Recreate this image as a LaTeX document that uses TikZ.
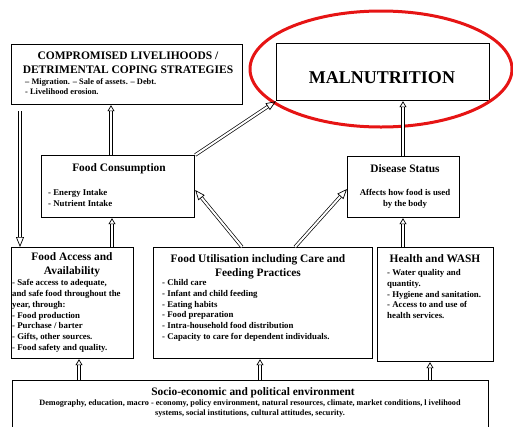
\documentclass[tikz,border=0pt]{standalone}
\usepackage{fontspec}
\setmainfont{Liberation Serif}
\usetikzlibrary{arrows.meta}
\definecolor{ovalred}{RGB}{230,20,20}
\tikzset{
  box/.style={draw, line width=1.2pt, inner sep=0pt, anchor=north west},
  head/.style={font=\bfseries\fontsize{11.4}{13.5}\selectfont, align=center, inner sep=0pt},
  body/.style={font=\bfseries\fontsize{8.8}{10.7}\selectfont, align=left, inner sep=0pt, anchor=north west},
  barrow/.style={double, double distance=2pt, line width=0.7pt, -{Triangle[open,length=6pt,width=7pt]}},
  longarrow/.style={double, double distance=2pt, line width=0.7pt, -{Triangle[open,length=10pt,width=8pt]}}
}
\begin{document}
\begin{tikzpicture}[x=1pt,y=-1pt]
\useasboundingbox (0,0) rectangle (513,426);
% boxes
\node[box, minimum width=231pt, minimum height=60pt] (comp) at (11,44) {};
\node[box, minimum width=213pt, minimum height=57pt] (mal) at (276,43) {};
\node[box, minimum width=153pt, minimum height=62pt] (cons) at (41,155) {};
\node[box, minimum width=112pt, minimum height=61pt] (dis) at (347,156) {};
\node[box, minimum width=122pt, minimum height=111pt] (acc) at (11,247) {};
\node[box, minimum width=219pt, minimum height=111pt] (util) at (153,247) {};
\node[box, minimum width=116pt, minimum height=114pt] (wash) at (377,247) {};
\node[box, minimum width=476pt, minimum height=48pt] (soc) at (12,380) {};
% oval
\draw[ovalred, line width=3pt] (381,69) ellipse [x radius=131, y radius=58];
% texts
\node[head, font=\bfseries\fontsize{11.5}{14}\selectfont] (compT) at (128,63) {COMPROMISED LIVELIHOODS /\\DETRIMENTAL COPING STRATEGIES};
\node[body, font=\bfseries\fontsize{8.4}{10}\selectfont] (compB) at (25,78.5) {-- Migration. -- Sale of assets. -- Debt.\\- Livelihood erosion.};
\node[head, font=\bfseries\fontsize{18}{20}\selectfont] (malT) at (382,78) {MALNUTRITION};
\node[head] (consT) at (119,169) {Food Consumption};
\node[body] (consB) at (48,189.5) {- Energy Intake\\- Nutrient Intake};
\node[head] (disT) at (405,169) {Disease Status};
\node[body, align=center, anchor=center] (disB) at (405,198.5) {Affects how food is used\\by the body};
\node[head] (accT) at (72,265) {Food Access and\\Availability};
\node[body] (accB) at (12,279.5) {- Safe access to adequate,\\and safe food throughout the\\year, through:\\- Food production\\- Purchase / barter\\- Gifts, other sources.\\- Food safety and quality.};
\node[head] (utilT) at (258,267) {Food Utilisation including Care and\\Feeding Practices};
\node[body] (utilB) at (162,279.5) {- Child care\\- Infant and child feeding\\- Eating habits\\- Food preparation\\- Intra-household food distribution\\- Capacity to care for dependent individuals.};
\node[head] (washT) at (435,259) {Health and WASH};
\node[body] (washB) at (387,269.5) {- Water quality and\\quantity.\\- Hygiene and sanitation.\\- Access to and use of\\health services.};
\node[head] (socT) at (253,393) {Socio-economic and political environment};
\node[body, align=center, anchor=center, font=\bfseries\fontsize{8.2}{9.5}\selectfont] (socB) at (250,408.5) {Demography, education, macro - economy, policy environment, natural resources, climate, market conditions, l ivelihood\\systems, social institutions, cultural attitudes, security.};
% arrows
\draw[barrow] (soc.north -| 79,0) -- (acc.south -| 79,0);
\draw[barrow] (soc.north -| 260,0) -- (util.south -| 260,0);
\draw[barrow] (soc.north -| 430,0) -- (wash.south -| 430,0);
\draw[barrow] (acc.north -| 112,0) -- (cons.south -| 112,0);
\draw[barrow] (cons.north -| 111,0) -- (comp.south -| 111,0);
\draw[longarrow] (comp.south -| 20,0) ++(0,6) -- (acc.north -| 20,0);
\draw[longarrow] (cons.north east) -- (mal.south west);
\draw[barrow] (dis.north -| 403,0) -- (mal.south -| 403,0);
\draw[longarrow] (util.north -| 242,0) -- (cons.east |- 0,190);
\draw[longarrow] (util.north -| 295,0) -- (dis.west |- 0,189);
\draw[barrow] (wash.north -| 403,0) -- (dis.south -| 403,0);
\end{tikzpicture}
\end{document}
